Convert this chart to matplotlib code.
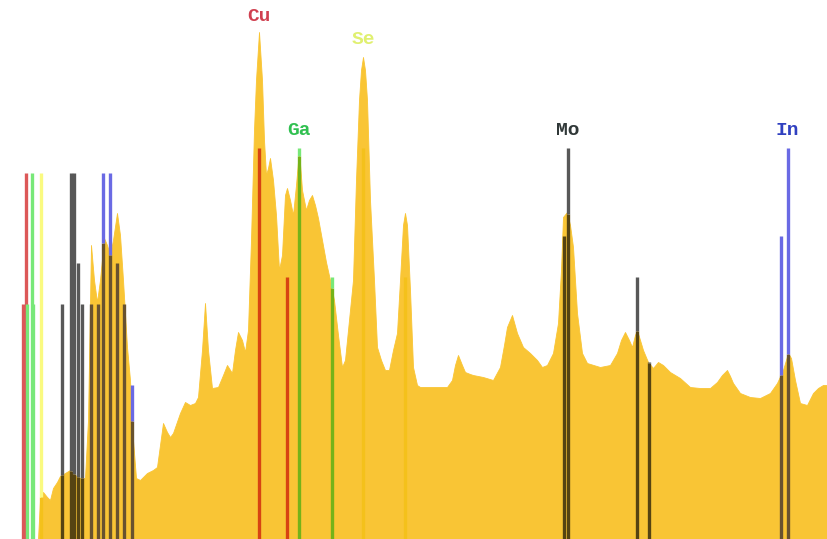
"""EDX spectrum of a CIGS-on-Mo sample with element line markers."""

import numpy as np
import matplotlib
matplotlib.use("Agg")
import matplotlib.pyplot as plt
from matplotlib.colors import to_rgb

# spectrum: detector channel and counts
KEV_PER_CH = 1 / 32.7
CH_OFFSET = 4
channels = [
    38, 40, 43, 47, 50, 53, 57, 60, 65, 70, 75, 80, 85, 88, 91, 94, 97, 100,
    104, 107, 110, 113, 117, 120, 123, 127, 130, 133, 136, 140, 147, 153, 157,
    163, 167, 170, 173, 180, 185, 190, 195, 198, 202, 205, 208, 212, 218, 223,
    227, 232, 235, 238, 242, 245, 248, 251, 254, 256, 259, 262, 264, 266, 268,
    270, 273, 276, 279, 282, 285, 287, 290, 293, 296, 299, 302, 306, 309, 312,
    315, 318, 322, 326, 330, 334, 338, 342, 345, 349, 353, 356, 359, 361, 363,
    365, 367, 370, 374, 377, 381, 385, 389, 393, 397, 400, 403, 405, 407, 410,
    413, 417, 420, 433, 447, 452, 455, 458, 462, 465, 470, 473, 483, 493, 500,
    504, 507, 512, 517, 523, 530, 537, 542, 547, 553, 558, 561, 563, 567, 570,
    573, 577, 582, 587, 600, 610, 617, 621, 625, 629, 632, 635, 637, 640, 643,
    648, 653, 658, 663, 670, 680, 690, 700, 710, 717, 722, 727, 730, 733, 740,
    750, 760, 770, 777, 783, 788, 791, 795, 800, 807, 813, 818, 823, 828,
]
counts = [
    0, 39, 47, 42, 39, 51, 57, 63, 66, 69, 64, 61, 61, 119, 294, 259, 237, 259,
    301, 294, 284, 299, 326, 304, 259, 192, 159, 99, 61, 59, 66, 69, 72,
    116, 107, 102, 106, 126, 137, 134, 136, 142, 189, 236, 189, 151, 152, 164,
    174, 166, 189, 207, 199, 187, 209, 299, 409, 459, 507, 459, 399, 364, 371,
    381, 359, 324, 269, 284, 344, 351, 339, 324, 354, 389, 349, 329, 339, 344,
    334, 321, 299, 277, 259, 239, 204, 172, 179, 219, 259, 359, 439, 469, 482,
    469, 439, 339, 259, 192, 179, 169, 169, 189, 206, 259, 314, 326, 314, 249,
    172, 154, 152, 152, 152, 159, 174, 184, 174, 167, 165, 164, 162, 159, 172,
    194, 212, 224, 206, 192, 186, 179, 172, 174, 186, 216, 269, 322, 327, 314,
    292, 226, 186, 176, 172, 174, 186, 199, 207, 199, 192, 204, 209, 199, 189,
    177, 171, 177, 174, 167, 161, 152, 151, 151, 157, 164, 169, 163, 156, 146,
    142, 141, 146, 156, 169, 186, 181, 159, 136, 134, 146, 151, 154, 154,
]

# marker lines: energy (keV) and drawn height
cu_lines = [(0.811, 235), (0.930, 366), (8.047, 391), (8.905, 262)]
ga_lines = [(0.957, 235), (1.098, 366), (1.125, 235), (9.251, 391), (10.264, 262)]
se_lines = [(1.379, 366), (11.222, 391), (12.496, 262)]
mo_lines = [(2.016, 235), (2.293, 366), (2.395, 366), (2.518, 276), (2.623, 235),
            (17.374, 303), (17.479, 391), (19.608, 262), (19.965, 177)]
in_lines = [(2.904, 235), (3.112, 235), (3.287, 366), (3.487, 366), (3.714, 276),
            (3.921, 235), (4.161, 154), (24.002, 303), (24.210, 391)]

elements = [
    ("Cu", cu_lines, "#dc5858", "#d04050"),
    ("Ga", ga_lines, "#78e878", "#30c050"),
    ("Se", se_lines, "#fafa80", "#e0f070"),
    ("Mo", mo_lines, "#585858", "#303838"),
    ("In", in_lines, "#6a6ae4", "#3040c0"),
]

FILL = "#f9c535"

energy = (np.array(channels) + CH_OFFSET) * KEV_PER_CH
counts = np.array(counts)


def multiply(c1, c2):
    """Colour of c1 seen through c2 (multiply blend)."""
    return tuple(a * b for a, b in zip(to_rgb(c1), to_rgb(c2)))


fig = plt.figure(figsize=(8.28, 5.39), dpi=100)
ax = fig.add_axes([0, 0, 1, 1])
ax.fill_between(energy, 0, counts, color=FILL, linewidth=0.6, zorder=1)

for name, lines, line_color, text_color in elements:
    under = multiply(line_color, FILL)
    for e, h in lines:
        s = np.interp(e, energy, counts, left=0)
        ax.vlines(e, 0, min(h, s), color=under, linewidth=2.4, zorder=2)
        if h > s:
            ax.vlines(e, s, h, color=line_color, linewidth=2.4, zorder=2)
    # label sits above the strongest line or the peak, whichever is higher
    e_top, h_top = max(lines, key=lambda l: l[1])
    base = max(h_top, np.interp(e_top, energy, counts))
    ax.text(e_top, base + 9, name, color=text_color, fontsize=14,
            family="Liberation Mono", weight="bold", ha="center", va="bottom",
            zorder=3)

ax.set_xlim(CH_OFFSET * KEV_PER_CH, (828 + CH_OFFSET) * KEV_PER_CH)
ax.set_ylim(0, 539)
ax.axis("off")

fig.savefig("out.png", dpi=100, facecolor="white")
